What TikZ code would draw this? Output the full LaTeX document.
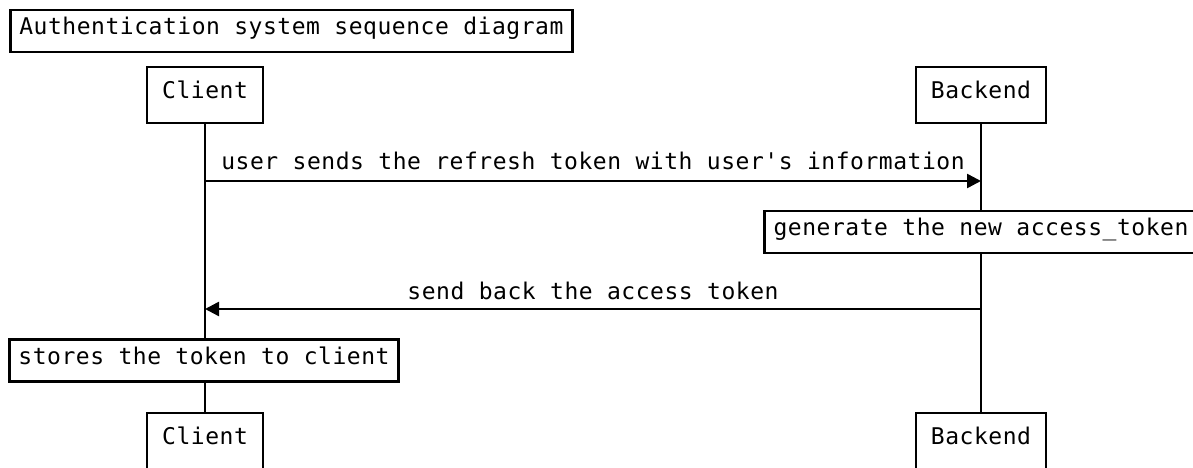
\documentclass[tikz,border=0pt]{standalone}
\usepackage{fontspec}
\setmonofont{DejaVu Sans Mono}[LetterSpace=2.3]
\usetikzlibrary{arrows.meta}
\newcommand{\seqfont}{\fontsize{23bp}{28bp}\selectfont\ttfamily}
\begin{document}
\begin{tikzpicture}[x=1bp,y=-1bp,
  every node/.style={font=\seqfont, text=black},
  frame/.style={draw=black, line width=2.5bp, fill=white, inner ysep=0pt,
                text height=0.73em, text depth=0pt},
  actor/.style={frame, minimum height=56bp, inner xsep=15bp},
  notebox/.style={frame, minimum height=42bp, inner xsep=9bp},
  msgtext/.style={anchor=base, inner sep=0pt},
  lifeline/.style={line width=2.5bp},
  msg/.style={line width=2.5bp, -{Triangle[length=14bp,width=14bp]}}]
\useasboundingbox (0,0) rectangle (1193,468);
\clip (0,0) rectangle (1193,468);

% title
\node[notebox, anchor=west] (title) at (9,31) {Authentication system sequence diagram};

% participants, top and bottom
\node[actor] (ctop) at (205,95) {Client};
\node[actor] (btop) at (981,95) {Backend};
\node[actor] (cbot) at (205,441) {Client};
\node[actor] (bbot) at (981,441) {Backend};

% lifelines
\draw[lifeline] (ctop.south) -- (cbot.north);
\draw[lifeline] (btop.south) -- (bbot.north);

% message 1
\coordinate (m1c) at (205,181);
\coordinate (m1b) at (981,181);
\draw[msg] (m1c) -- (m1b);
\node[msgtext] (m1t) at (593,170) {user sends the refresh token with user's information};

% note on backend
\node[notebox] (gen) at (981,232) {generate the new access\_token};

% message 2
\coordinate (m2b) at (981,309);
\coordinate (m2c) at (205,309);
\draw[msg] (m2b) -- (m2c);
\node[msgtext] (m2t) at (593,300) {send back the access token};

% note on client
\node[notebox] (store) at (204,360.5) {stores the token to client};
\end{tikzpicture}
\end{document}
